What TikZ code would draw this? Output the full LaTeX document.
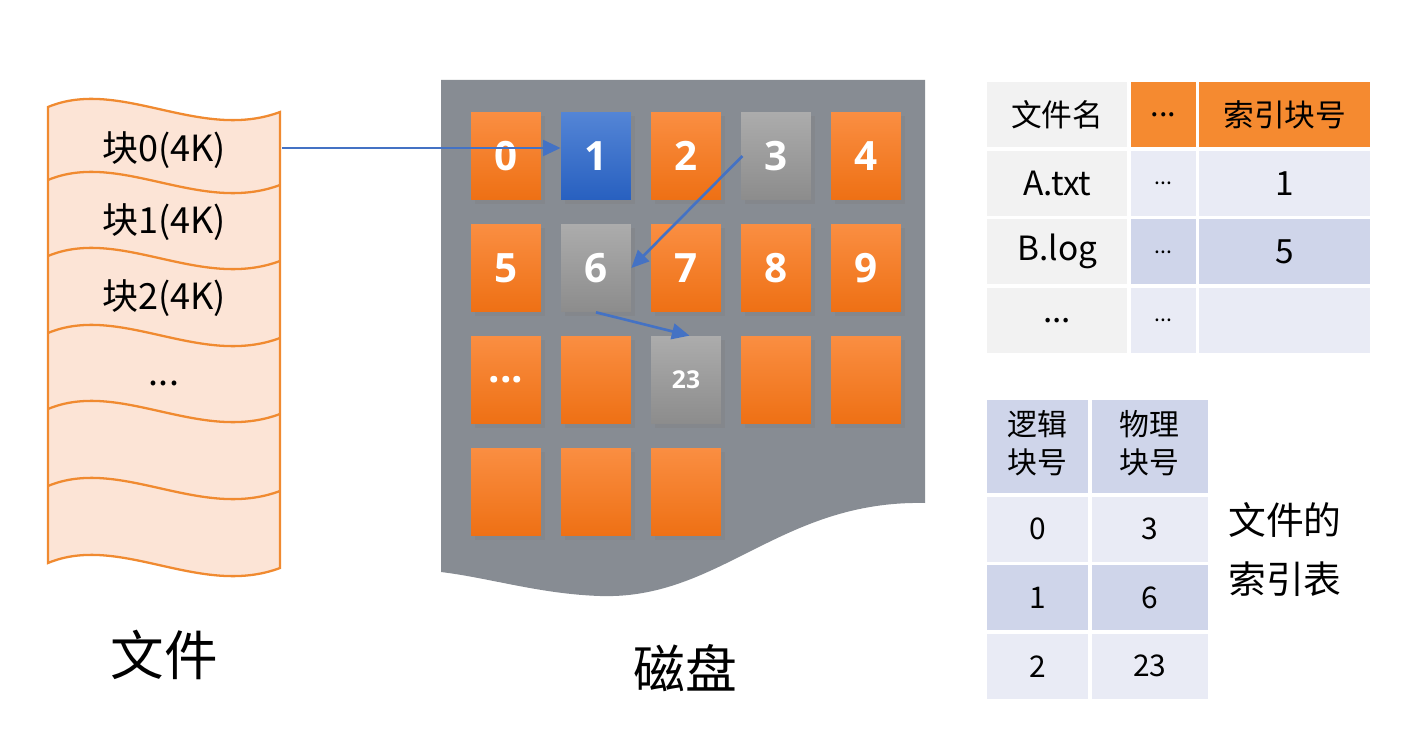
\documentclass[tikz,border=0pt]{standalone}
\usepackage{fontspec}
\setmainfont{Noto Sans CJK SC}
\newfontfamily\tilefont{Open Sans}
\usetikzlibrary{positioning,matrix,shadows,arrows.meta}

\definecolor{fileline}{RGB}{240,138,48}
\definecolor{filefill}{RGB}{252,228,214}
\definecolor{diskgray}{RGB}{135,140,147}
\definecolor{tiletop}{RGB}{250,142,66}
\definecolor{tilebot}{RGB}{238,112,20}
\definecolor{bluetop}{RGB}{84,133,214}
\definecolor{bluebot}{RGB}{40,96,192}
\definecolor{graytop}{RGB}{172,172,172}
\definecolor{graybot}{RGB}{140,140,140}
\definecolor{linkblue}{RGB}{68,114,196}
\definecolor{cellgray}{RGB}{242,242,242}
\definecolor{cellhead}{RGB}{245,138,48}
\definecolor{celllight}{RGB}{233,235,245}
\definecolor{celldark}{RGB}{207,213,234}

\newcommand{\fsz}[2]{\fontsize{#1pt}{#2pt}\selectfont}
\newcommand{\wave}[1]{(48,#1) .. controls (120,#1-30) and (200,#1+35) .. (280,#1+5)}
\newcommand{\etc}{...}
\newcommand{\twolines}[2]{\begin{tabular}{@{}c@{}}#1\\#2\end{tabular}}

\begin{document}
\begin{tikzpicture}[x=0.02cm, y=-0.02cm,
    tile/.style = {minimum width=1.4cm, minimum height=1.76cm, inner sep=0pt,
      text=white, font={\tilefont\bfseries\fsz{23}{27}},
      drop shadow={opacity=0.35, shadow xshift=2pt, shadow yshift=-2pt}},
    tileo/.style = {tile, top color=tiletop, bottom color=tilebot},
    tileb/.style = {tile, top color=bluetop, bottom color=bluebot},
    tileg/.style = {tile, top color=graytop, bottom color=graybot},
    small/.style = {font={\tilefont\bfseries\fsz{14}{17}}},
    link/.style = {draw=linkblue, line width=1.5pt,
      -{Triangle[length=10pt, width=9pt]}},
    cell/.style = {inner sep=0pt, minimum height=1.3cm, anchor=center},
    head/.style = {fill=cellhead, font=\fsz{17.5}{21}},
    light/.style = {fill=celllight},
    dark/.style = {fill=celldark},
  ]
  \useasboundingbox (0,0) rectangle (1411,750);

  % file
  \filldraw[draw=fileline, fill=filefill, line width=1.3pt]
    (48,107) .. controls (120,77) and (200,142) .. (280,112)
    -- (280,568) .. controls (200,598) and (120,533) .. (48,563) -- cycle;
  \foreach \y in {180,256,333,409,486}
    \draw[fileline, line width=1.3pt] \wave{\y};
  \foreach \t/\y/\n in {块0(4K)/150/fb0, 块1(4K)/222/fb1, 块2(4K)/298/fb2, \etc/383/fbdots}
    \node[font=\fsz{20.5}{24}] (\n) at (164,\y) {\t};
  \coordinate (fileedge) at (282,148);
  \node[font=\fsz{30.5}{36}] (filelabel) at (164,655) {文件};

  % disk
  \fill[diskgray] (441,80) -- (925,80) -- (925,503)
    .. controls (780,500) and (720,600) .. (600,596)
    .. controls (540,594) and (490,578) .. (441,572) -- cycle;
  \foreach \r/\c/\n/\t/\k in {0/0/blk0/0/tileo, 0/1/blk1/1/tileb, 0/2/blk2/2/tileo,
      0/3/blk3/3/tileg, 0/4/blk4/4/tileo, 1/0/blk5/5/tileo, 1/1/blk6/6/tileg,
      1/2/blk7/7/tileo, 1/3/blk8/8/tileo, 1/4/blk9/9/tileo, 2/0/blkdots/\etc/tileo,
      2/1/blk21/{}/tileo, 2/3/blk24/{}/tileo, 2/4/blk25/{}/tileo,
      3/0/blk30/{}/tileo, 3/1/blk31/{}/tileo, 3/2/blk32/{}/tileo}
    \node[\k] (\n) at (506+90*\c, 156+112*\r) {\t};
  \node[tileg, small] (blk23) at (686,380) {23};
  \node[font=\fsz{29.5}{35}] (disklabel) at (685,668) {磁盘};

  % links
  \draw[link] (fileedge) -- (fileedge -| blk1.west);
  \draw[link] ([xshift=1pt]blk3.west) -- (blk6.east);
  \draw[link] (blk6.south) -- ([xshift=2pt]blk23.north);

  % directory table
  \matrix (fcb) [matrix of nodes, nodes in empty cells, anchor=north west,
      inner sep=0pt, column sep=0.07cm, row sep=0.07cm,
      nodes={cell, font=\fsz{19}{23}},
      column 1/.style={nodes={minimum width=2.8cm, fill=cellgray}},
      column 2/.style={nodes={minimum width=1.3cm}},
      column 3/.style={nodes={minimum width=3.42cm}}] at (987,82) {
    |[fill=cellgray, font=\fsz{17.5}{21}]| 文件名 & |[head]| \etc & |[head]| 索引块号 \\
    A.txt & |[light, font=\fsz{12}{14}]| \etc & |[light]| 1 \\
    B.log & |[dark, font=\fsz{12}{14}]| \etc & |[dark]| 5 \\
    \etc & |[light, font=\fsz{12}{14}]| \etc & |[light]| {} \\
  };

  % index table
  \matrix (lbt) [matrix of nodes, anchor=north west,
      inner sep=0pt, column sep=0.07cm, row sep=0.07cm,
      nodes={cell, font=\fsz{17}{21.5}},
      column 1/.style={nodes={minimum width=2.02cm}},
      column 2/.style={nodes={minimum width=2.32cm}},
      row 1/.style={nodes={minimum height=1.86cm, fill=celldark}},
      row 2/.style={nodes={fill=celllight}},
      row 3/.style={nodes={fill=celldark}},
      row 4/.style={nodes={fill=celllight}}] at (987,400) {
    \twolines{逻辑}{块号} & \twolines{物理}{块号} \\
    0 & 3 \\
    1 & 6 \\
    2 & 23 \\
  };
  \node[right=0.28cm of lbt, align=left, font=\fsz{21.5}{34}] (lbtlabel)
    {文件的\\索引表};
\end{tikzpicture}
\end{document}
